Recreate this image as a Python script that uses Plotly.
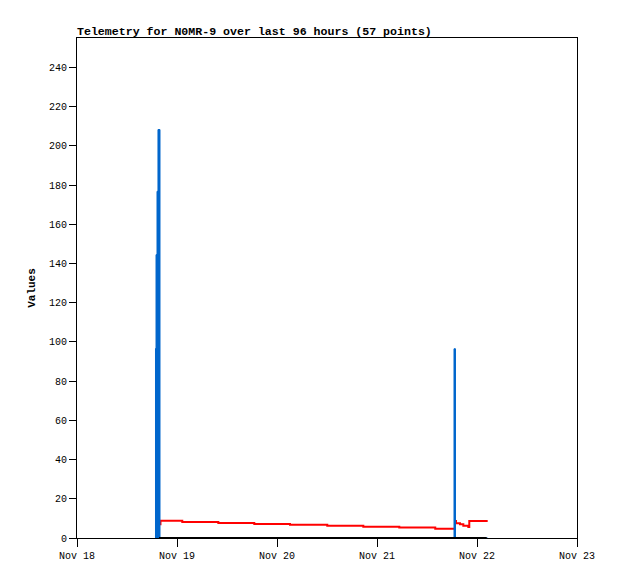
"""
Telemetry chart for N0MR-9
"""
import plotly.graph_objects as go

# channel values (step series)
red_time = ["2023-11-18 19:55", "2023-11-18 20:02", "2023-11-19 01:16", "2023-11-19 09:55",
            "2023-11-19 18:33", "2023-11-20 03:07", "2023-11-20 12:04", "2023-11-20 20:43",
            "2023-11-21 05:21", "2023-11-21 13:59", "2023-11-21 18:19", "2023-11-21 18:43",
            "2023-11-21 18:58", "2023-11-21 19:55", "2023-11-21 20:43", "2023-11-21 21:55",
            "2023-11-21 22:09", "2023-11-22 02:34"]
red_vals = [7.0, 8.8, 8.2, 7.7, 7.2, 6.8, 6.3, 5.8, 5.3, 4.7, 4.7, 8.7,
            7.5, 7.0, 6.3, 5.6, 8.7, 8.7]

blue_time = ["2023-11-18 18:43", "2023-11-18 18:58", "2023-11-18 19:12", "2023-11-18 19:26",
             "2023-11-18 19:55", "2023-11-21 18:29", "2023-11-21 18:50", "2023-11-22 02:34"]
blue_vals = [96.5, 144.5, 176.8, 208.3, 0, 96.5, 0, 0]

black_time = ["2023-11-18 19:41", "2023-11-20 12:00", "2023-11-22 02:20"]
black_vals = [0, 0, 0]

x_ticks = ["2023-11-18", "2023-11-19", "2023-11-20", "2023-11-21", "2023-11-22", "2023-11-23"]
x_labels = ["Nov 18", "Nov 19", "Nov 20", "Nov 21", "Nov 22", "Nov 23"]
y_ticks = list(range(0, 241, 20))

mono = "Liberation Mono, DejaVu Sans Mono, monospace"

fig = go.Figure()
fig.add_trace(go.Scatter(x=red_time, y=red_vals, mode="lines",
                         line=dict(color="#ff0000", width=2, shape="hv")))
fig.add_trace(go.Scatter(x=blue_time, y=blue_vals, mode="lines", fill="tozeroy",
                         fillcolor="#0066cc",
                         line=dict(color="#0066cc", width=1, shape="hv")))
fig.add_trace(go.Scatter(x=black_time, y=black_vals, mode="lines",
                         line=dict(color="#000000", width=2)))

# page body has an 8px margin, so the plot box is pulled up/left by 8px
fig.update_layout(
    width=618, height=579,
    margin=dict(l=69, r=49, t=30, b=49),
    paper_bgcolor="white", plot_bgcolor="white",
    showlegend=False, hovermode=False,
    font=dict(family=mono, size=10, color="black"),
    title=dict(text="<b>Telemetry for N0MR-9 over last 96 hours (57 points)</b>",
               x=69 / 618, xanchor="left", y=1 - 23 / 579, yanchor="middle",
               font=dict(family=mono, size=11.6, color="black")),
)
fig.update_xaxes(
    type="date", range=["2023-11-18", "2023-11-23"],
    tickvals=x_ticks, ticktext=x_labels,
    ticks="outside", ticklen=8, tickcolor="black",
    showline=True, linecolor="black", linewidth=1, mirror=True,
    showgrid=False, zeroline=False,
)
fig.update_yaxes(
    range=[0, 255], tickvals=y_ticks,
    ticks="outside", ticklen=7, tickcolor="black",
    showline=True, linecolor="black", linewidth=1, mirror=True,
    showgrid=False, zeroline=False,
    title=dict(text="<b>Values</b>", standoff=11, font=dict(family=mono, size=11)),
)

fig.write_html("out.html")
